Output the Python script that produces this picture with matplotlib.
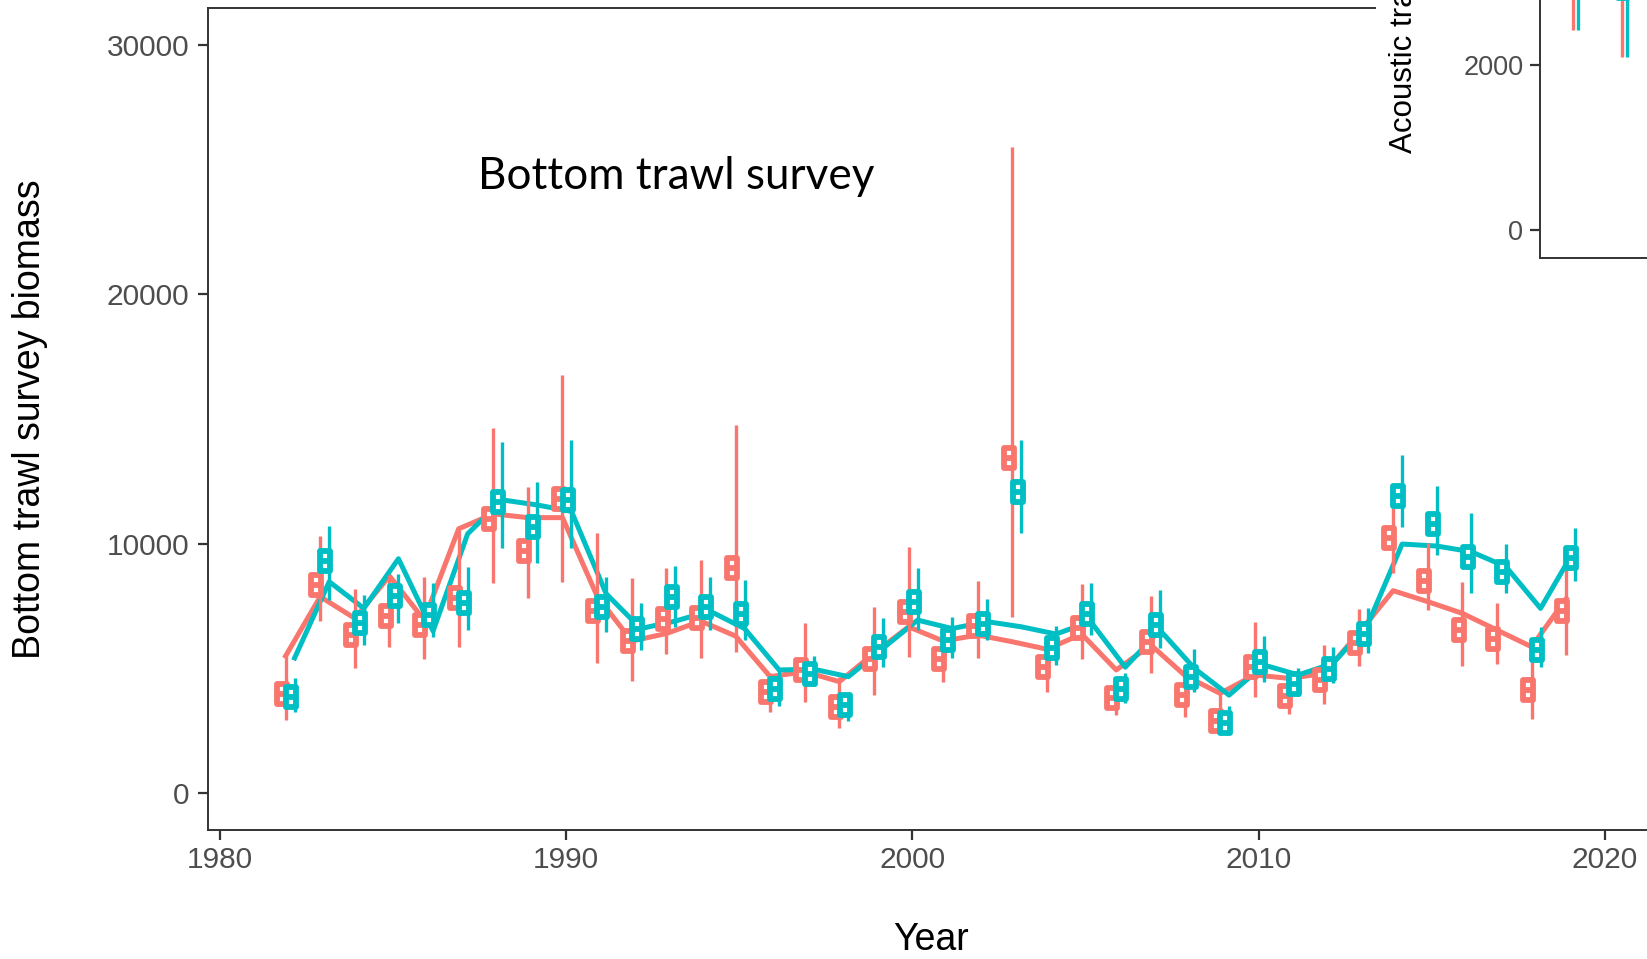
import matplotlib.pyplot as plt
import numpy as np
from matplotlib.path import Path
from matplotlib.markers import MarkerStyle
from matplotlib.patches import Rectangle

plt.rcParams['font.family'] = ['Liberation Sans', 'DejaVu Sans']

# bottom trawl survey, 1982-2019
years = np.arange(1982, 2020)
red_med = [3970, 8330, 6340, 7090, 6730, 7810, 11000, 9720, 11810, 7320,
           6110, 7000, 7040, 9020, 4060, 4930, 3450, 5380, 7280, 5380,
           6710, 13430, 5050, 6610, 3800, 6070, 3920, 2900, 5050, 3900,
           4540, 6030, 10230, 8520, 6540, 6190, 4120, 7300]
red_lo = [2930, 6900, 5000, 5870, 5370, 5870, 8440, 7810, 8480, 5230,
          4510, 5580, 5410, 5670, 3270, 3670, 2600, 3940, 5470, 4470,
          5410, 7050, 4070, 5370, 3130, 4800, 3070, 2500, 3840, 3170,
          3570, 5100, 8820, 7340, 5100, 5180, 2960, 5540]
red_hi = [5500, 10300, 8200, 8750, 8680, 10550, 14630, 12260, 16770, 10420,
          8620, 9020, 9350, 14770, 4800, 6840, 4670, 7480, 9880, 6500,
          8520, 25900, 6100, 8390, 4600, 7900, 4700, 4000, 6880, 4700,
          5940, 7370, 11420, 10020, 8480, 7610, 5300, 9600]
teal_med = [3870, 9320, 6810, 7890, 7140, 7640, 11690, 10660, 11740, 7450,
            6570, 7870, 7450, 7180, 4190, 4780, 3520, 5870, 7670, 6140,
            6770, 12090, 5810, 7180, 4160, 6740, 4670, 2810, 5260, 4380,
            4980, 6370, 11920, 10790, 9460, 8880, 5740, 9430]
teal_lo = [3250, 7750, 5940, 6840, 6250, 6540, 9820, 9220, 9850, 6470,
           5740, 6680, 6540, 6140, 3500, 4300, 2900, 5070, 6540, 5410,
           6140, 10450, 5140, 6340, 3600, 5810, 4070, 2450, 4470, 3900,
           4400, 5610, 10660, 9550, 8040, 8010, 5070, 8520]
teal_hi = [4600, 10700, 7950, 8800, 8440, 9080, 14100, 12490, 14160, 8660,
           7640, 9110, 8680, 8550, 5000, 5500, 4000, 7010, 9020, 7080,
           7770, 14160, 6700, 8420, 4800, 8150, 5770, 3500, 6300, 5000,
           5850, 7410, 13560, 12320, 11250, 9990, 6670, 10620]
red_fit = [5500, 7880, 7010, 8710, 6950, 10600, 11200, 11050, 11050, 7900,
           6100, 6400, 6900, 6300, 4670, 4870, 4470, 5610, 6670, 6100,
           6340, 6070, 5770, 6380, 4940, 5940, 4700, 4000, 4740, 4600,
           4800, 6410, 8120, 7680, 7210, 6540, 5870, 7800]
teal_fit = [5420, 8480, 7410, 9400, 6500, 10400, 11760, 11560, 11300, 8000,
            6600, 6900, 7300, 6600, 4940, 4970, 4670, 5810, 6940, 6600,
            6880, 6670, 6380, 6880, 5050, 6540, 5000, 3930, 5140, 4740,
            5200, 6740, 9990, 9910, 9680, 9080, 7410, 9800]

# acoustic trawl survey (inset, only its lower part is in view)
ac_idx = np.array([1, 2, 3])
ac_red_med = [3300, 3100, 3500]
ac_red_lo = [2430, 2100, 2610]
ac_red_hi = [4600, 4400, 4700]
ac_teal_med = [3300, 2930, 3400]
ac_teal_lo = [2430, 2100, 2600]
ac_teal_hi = [4600, 4400, 4700]

RED = '#F8766D'
TEAL = '#00BFC4'

# small hollow box with a median bar
w = 0.221
box_path = Path([(-w, -0.5), (w, -0.5), (w, 0.5), (-w, 0.5), (-w, -0.5), (-w, 0), (w, 0)],
                [Path.MOVETO, Path.LINETO, Path.LINETO, Path.LINETO, Path.CLOSEPOLY,
                 Path.MOVETO, Path.LINETO])
box = MarkerStyle(box_path, joinstyle='miter')


def draw(ax, x, med, lo, hi, color, dx, bdx, fit=None):
    if fit is not None:
        ax.plot(x + dx, fit, color=color, lw=3.6, solid_joinstyle='round', zorder=2)
    ax.vlines(x + dx, lo, hi, color=color, lw=2.4, zorder=3)
    ax.plot(x + dx + bdx, med, ls='none', marker=box, ms=15, mfc='white',
            mec=color, mew=4.2, zorder=4)


W, H = 1647, 959
fig = plt.figure(figsize=(W / 100, H / 100), dpi=100)

x0, x1 = 1979.633, 2022.0
px_per_year = 34.61
ax = fig.add_axes([207.5 / W, (H - 830) / H, (x1 - x0) * px_per_year / W, (830 - 8.4) / H])
draw(ax, years, red_med, red_lo, red_hi, RED, -0.11, -0.11, red_fit)
draw(ax, years, teal_med, teal_lo, teal_hi, TEAL, 0.15, -0.11, teal_fit)
ax.set_xlim(x0, x1)
ax.set_ylim(-1480, 31476)
ax.set_xticks([1980, 1990, 2000, 2010, 2020])
ax.set_yticks([0, 10000, 20000, 30000])
for s in ax.spines.values():
    s.set_color('#333333')
    s.set_linewidth(1.4)
ax.tick_params(length=7.5, width=1.6, color='#333333', labelcolor='#4D4D4D',
               labelsize=21.5)
ax.tick_params(axis='y', pad=5.5)
ax.tick_params(axis='x', pad=4)
ax.set_ylabel('Bottom trawl survey biomass', fontsize=27, color='black')
ax.yaxis.set_label_coords((48 - 207.5) / ((x1 - x0) * px_per_year), 0.5)
ax.set_xlabel('Year', fontsize=27, color='black', va='center')
ax.xaxis.set_label_coords((930.7 - 207.5) / ((x1 - x0) * px_per_year), -(940 - 830) / 821.6)

fig.text(478 / W, 1 - 189 / H, 'Bottom trawl survey', fontsize=31.7, family='Lato',
         va='baseline', ha='left')

# white backing of the inset plot
fig.patches.append(Rectangle((1376 / W, 1 - 300 / H), 1, 300 / H, transform=fig.transFigure,
                             facecolor='white', edgecolor='none', zorder=1))

ins = fig.add_axes([1540 / W, (H - 258.4) / H, (4.0 - 0.3) * 50 / W, 358.2 / H], zorder=2)
draw(ins, ac_idx, ac_red_med, ac_red_lo, ac_red_hi, RED, -0.05, -0.08)
draw(ins, ac_idx, ac_teal_med, ac_teal_lo, ac_teal_hi, TEAL, 0.05, -0.08)
ins.set_xlim(0.3, 4.0)
ins.set_ylim(-344, 4000)
ins.set_yticks([0, 2000])
ins.set_xticks([])
ins.spines['top'].set_visible(False)
ins.spines['right'].set_visible(False)
for s in ('left', 'bottom'):
    ins.spines[s].set_color('#333333')
    ins.spines[s].set_linewidth(1.4)
ins.tick_params(length=7, width=1.6, color='#333333', labelcolor='#4D4D4D',
                labelsize=19.5, pad=5)
fig.text(1404 / W, 1 - 153 / H, 'Acoustic trawl survey biomass', rotation=90,
         ha='center', va='bottom', fontsize=22.5, zorder=5)

fig.savefig('out.png', dpi=100)
